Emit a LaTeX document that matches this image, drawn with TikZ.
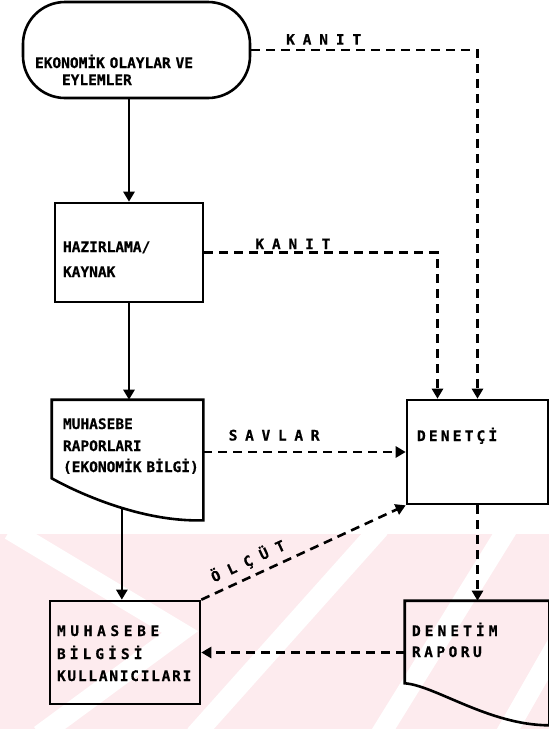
\documentclass[tikz,border=0pt]{standalone}
\usepackage{fontspec}
\newfontfamily\flowfont[BoldFeatures={FakeBold=0.6}]{DejaVu Sans Mono}
\usetikzlibrary{arrows.meta}
\definecolor{wmpink}{RGB}{253,235,238}
\newcommand{\spread}[2]{{\addfontfeature{LetterSpace=#1}#2}}
\hfuzz=30pt

\begin{document}
\begin{tikzpicture}
		[x=1pt, y=-1pt, line width=2.6pt,
		font=\flowfont\bfseries\fontsize{14.5}{17}\selectfont,
		box/.style = {draw, inner sep=0pt, align=left, text height=10pt},
		doc/.style = {inner sep=0pt, align=left, text height=10pt},
		arr/.style = {-{Triangle[length=10pt, width=11pt]}},
		dashline/.style = {dash pattern=on 9pt off 6pt},
		lbl/.style = {inner sep=1pt}]
	\useasboundingbox (0,0) rectangle (549,729);
	% faint stamp behind the lower part
	\fill[wmpink] (0,534) rectangle (549,729);
	\begin{scope}
		\clip (0,534) rectangle (549,729);
		\draw[white, line width=20pt] (10,530) -- (180,632) -- (40,735);
		\draw[white, line width=20pt] (195,735) -- (380,528);
		\draw[white, line width=20pt] (380,735) -- (508,528);
		\draw[white, line width=20pt] (505,735) -- (565,630);
	\end{scope}

	\node[box, rounded corners=42pt, minimum width=227pt, minimum height=96pt, text width=203pt, text height=53pt, text depth=17pt] (olay) at (136.5,50) {EKONOMİK OLAYLAR VE\\\hspace*{27pt}EYLEMLER};
	\node[box, minimum width=148pt, minimum height=99pt, text width=132pt, text height=24pt, text depth=25pt] (hazir) at (129,252.5) {HAZIRLAMA/\\[8pt]KAYNAK};
	\node[doc, minimum width=149pt, minimum height=118pt, text width=129pt, text depth=72pt] (rap) at (127.5,460) {MUHASEBE\\[5pt]RAPORLARI\\[4pt](EKONOMİK~BİLGİ)};
	\node[box, minimum width=150pt, minimum height=103pt, text width=136pt, text depth=43pt] (mbk) at (125,652.5) {\spread{32}{MUHASEBE}\\[6pt]\spread{28}{BİLGİSİ}\\[5pt]\spread{12}{KULLANICILARI}};
	\node[box, minimum width=141pt, minimum height=104pt, text width=121pt, text depth=32pt] (denet) at (477.5,452) {\spread{22}{DENETÇİ}};
	\node[doc, minimum width=142pt, minimum height=122pt, text width=130pt, text depth=64pt] (rapor) at (477,663) {\spread{28}{DENETİM}\\[4pt]\spread{24}{RAPORU}};

	% document outlines with the wavy foot
	\draw (rap.south east) .. controls +(-62,2) and +(25,14) .. ([yshift=42pt]rap.south west) node[coordinate, pos=0.45] (rapfoot) {} -- (rap.north west) -- (rap.north east) -- cycle;
	\draw (rapor.south east) .. controls +(-60,0) and +(30,2) .. ([yshift=42pt]rapor.south west) -- (rapor.north west) -- (rapor.north east) -- cycle;

	\draw[arr] (olay.south -| hazir.north) -- (hazir.north);
	\draw[arr] (hazir.south) -- (hazir.south |- rap.north);
	\draw[arr] (rapfoot) -- (rapfoot |- mbk.north);
	\draw[arr, dashline] (olay.east) -| node[lbl, above=3pt, pos=0.16] (kanit1) {\spread{54}{KANIT}} (denet.north);
	\draw[arr, dashline] (hazir.east) -| node[lbl, above=1pt, pos=0.19] (kanit2) {\spread{54}{KANIT}} ([xshift=-40pt]denet.north);
	\draw[arr, dashline] (rap.east |- denet.west) -- node[lbl, above=9pt, pos=0.35] (savlar) {\spread{53}{SAVLAR}} (denet.west);
	\draw[arr, dashline] (mbk.north east) -- node[lbl, sloped, above=5pt, pos=0.26] (olcut) {\spread{62}{ÖLÇÜT}} (denet.south west);
	\draw[arr, dashline] (denet.south) -- (denet.south |- rapor.north);
	\draw[arr, dashline] (rapor.west |- mbk.east) -- (mbk.east);
\end{tikzpicture}
\end{document}
